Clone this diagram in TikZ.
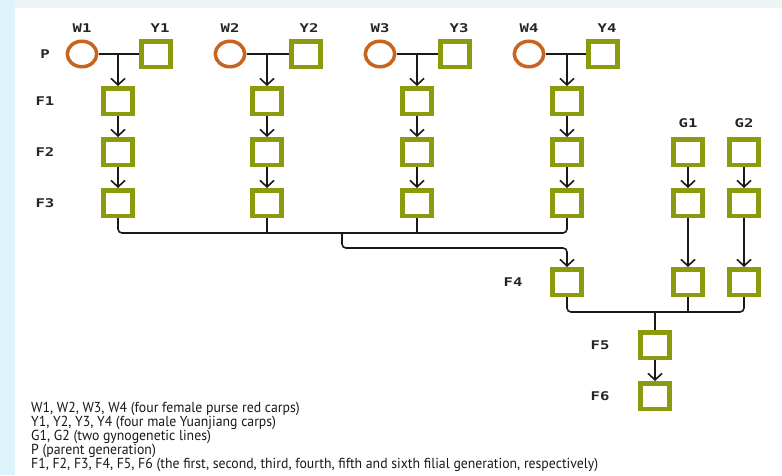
\documentclass[tikz,border=0pt]{standalone}
\usepackage{fontspec}
\usepackage{tikz}
\usetikzlibrary{positioning,arrows.meta,shapes}
\newfontfamily\labelfont[FakeStretch=1.3]{DejaVu Sans Mono}
\newfontfamily\legendfont[FakeStretch=0.95]{PT Sans}
\definecolor{femaleorange}{HTML}{C8641E}
\definecolor{malegreen}{HTML}{8C9A0E}
\definecolor{sidecyan}{HTML}{DDF5FA}
\definecolor{topgrey}{HTML}{EBF5F5}
\tikzstyle{female} = [ellipse, draw=femaleorange, line width=3.5pt, minimum width=29.5pt, minimum height=25.5pt, inner sep=0pt]
\tikzstyle{male}   = [rectangle, draw=malegreen, line width=4.5pt, minimum width=29pt, minimum height=25.5pt, inner sep=0pt]
\tikzstyle{tag}    = [font=\labelfont\bfseries\fontsize{12}{13}\selectfont, text=black!85]
\tikzstyle{legend} = [font=\legendfont\fontsize{14.5}{14}\selectfont, align=left, inner sep=0pt, text=black!90]
\tikzstyle{link}   = [line width=1.6pt, black!90, rounded corners=4pt]
\tikzstyle{arrow}  = [link, -{Straight Barb[length=6.5pt,width=14pt]}]

\begin{document}
\begin{tikzpicture}[x=1pt,y=-1pt]
        \useasboundingbox (0,0) rectangle (782,475);
        \fill[white] (0,0) rectangle (782,475);
        \fill[sidecyan] (0,0) rectangle (15,475);
        \fill[topgrey] (15,0) rectangle (782,8);

        % parent generation
        \node[female] (w1) at (82,54) {};
        \node[male]   (y1) at (156,54) {};
        \node[female] (w2) at (230,54) {};
        \node[male]   (y2) at (306,54) {};
        \node[female] (w3) at (380,54) {};
        \node[male]   (y3) at (455,54) {};
        \node[female] (w4) at (529,54) {};
        \node[male]   (y4) at (603,54) {};

        \node[tag] (lw1) at (82,28) {W1};
        \node[tag] (ly1) at (160,28) {Y1};
        \node[tag] (lw2) at (230,28) {W2};
        \node[tag] (ly2) at (309,28) {Y2};
        \node[tag] (lw3) at (380,28) {W3};
        \node[tag] (ly3) at (459,28) {Y3};
        \node[tag] (lw4) at (529,28) {W4};
        \node[tag] (ly4) at (607,28) {Y4};

        % generation labels
        \node[tag] (lp)  at (45,54)  {P};
        \node[tag] (lf1) at (45,101) {F1};
        \node[tag] (lf2) at (45,152) {F2};
        \node[tag] (lf3) at (45,203) {F3};
        \node[tag] (lf4) at (513,282) {F4};
        \node[tag] (lf5) at (600,345) {F5};
        \node[tag] (lf6) at (600,396) {F6};

        % filial lines
        \node[male] (f1a) at (118,101) {};
        \node[male] (f2a) at (118,152) {};
        \node[male] (f3a) at (118,203) {};
        \node[male] (f1b) at (267,101) {};
        \node[male] (f2b) at (267,152) {};
        \node[male] (f3b) at (267,203) {};
        \node[male] (f1c) at (417,101) {};
        \node[male] (f2c) at (417,152) {};
        \node[male] (f3c) at (417,203) {};
        \node[male] (f1d) at (567,101) {};
        \node[male] (f2d) at (567,152) {};
        \node[male] (f3d) at (567,203) {};

        % gynogenetic lines
        \node[tag] (lg1) at (688,123) {G1};
        \node[tag] (lg2) at (744,123) {G2};
        \node[male] (g1a) at (688,152) {};
        \node[male] (g1b) at (688,203) {};
        \node[male] (g1c) at (688,282) {};
        \node[male] (g2a) at (744,152) {};
        \node[male] (g2b) at (744,203) {};
        \node[male] (g2c) at (744,282) {};

        \node[male] (f4) at (567,282) {};
        \node[male] (f5) at (655,345) {};
        \node[male] (f6) at (655,396) {};

        \coordinate (j1) at (342,233);
        \coordinate (j2) at (655,312);

        % crosses
        \draw[link] (w1) -- (y1);
        \draw[link] (w2) -- (y2);
        \draw[link] (w3) -- (y3);
        \draw[link] (w4) -- (y4);
        \draw[arrow] (w1 -| f1a) -- (f1a);
        \draw[arrow] (w2 -| f1b) -- (f1b);
        \draw[arrow] (w3 -| f1c) -- (f1c);
        \draw[arrow] (w4 -| f1d) -- (f1d);

        \draw[arrow] (f1a) -- (f2a);
        \draw[arrow] (f2a) -- (f3a);
        \draw[arrow] (f1b) -- (f2b);
        \draw[arrow] (f2b) -- (f3b);
        \draw[arrow] (f1c) -- (f2c);
        \draw[arrow] (f2c) -- (f3c);
        \draw[arrow] (f1d) -- (f2d);
        \draw[arrow] (f2d) -- (f3d);

        \draw[link] (f3a.south) |- (j1) -| (f3d.south);
        \draw[link] (f3b.south) -- (f3b.south |- j1);
        \draw[link] (f3c.south) -- (f3c.south |- j1);
        \draw[arrow] (j1) -- ++(0,15) -| (f4);

        \draw[arrow] (g1a) -- (g1b);
        \draw[arrow] (g1b) -- (g1c);
        \draw[arrow] (g2a) -- (g2b);
        \draw[arrow] (g2b) -- (g2c);

        \draw[link] (f4.south) |- (j2) -| (g2c.south);
        \draw[link] (g1c.south) -- (g1c.south |- j2);
        \draw[link] (j2) -- (f5);
        \draw[arrow] (f5) -- (f6);

        % key
        \node[legend, anchor=north west] (key) at (31,402) {W1, W2, W3, W4 (four female purse red carps)\\
            Y1, Y2, Y3, Y4 (four male Yuanjiang carps)\\
            G1, G2 (two gynogenetic lines)\\
            P (parent generation)\\
            F1, F2, F3, F4, F5, F6 (the first, second, third, fourth, fifth and sixth filial generation, respectively)};
    \end{tikzpicture}
\end{document}
